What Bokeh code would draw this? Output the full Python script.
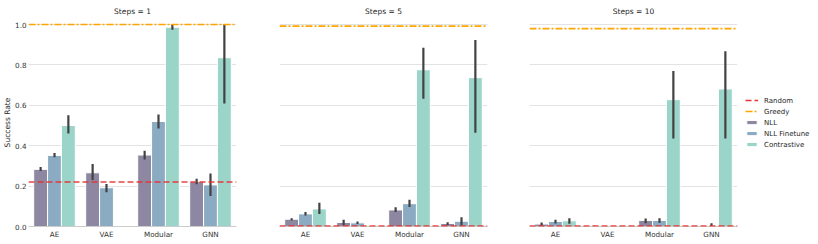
from bokeh.plotting import figure
from bokeh.models import FactorRange, Span, Legend, LegendItem, ColumnDataSource, FixedTicker, Range1d
from bokeh.transform import dodge
from bokeh.layouts import row
from bokeh.embed import file_html
from bokeh.resources import INLINE

nan = float("nan")
models = ["AE", "VAE", "Modular", "GNN"]
series = ["NLL", "NLL Finetune", "Contrastive"]
colors = ["#8e87a1", "#8aabc1", "#9bd4c8"]
steps = [1, 5, 10]

# Steps = 1
s1_nll = [0.283, 0.266, 0.354, 0.222]
s1_nll_lo = [0.275, 0.23, 0.332, 0.209]
s1_nll_hi = [0.295, 0.31, 0.375, 0.237]
s1_ft = [0.352, 0.192, 0.52, 0.206]
s1_ft_lo = [0.343, 0.17, 0.485, 0.151]
s1_ft_hi = [0.364, 0.21, 0.554, 0.263]
s1_con = [0.50, 0.0, 0.987, 0.836]
s1_con_lo = [0.46, nan, 0.974, 0.609]
s1_con_hi = [0.551, nan, 1.0, 1.0]

# Steps = 5
s5_nll = [0.036, 0.02, 0.082, 0.015]
s5_nll_lo = [0.03, 0.008, 0.072, 0.008]
s5_nll_hi = [0.041, 0.033, 0.095, 0.021]
s5_ft = [0.0625, 0.018, 0.113, 0.026]
s5_ft_lo = [0.054, 0.012, 0.097, 0.005]
s5_ft_hi = [0.072, 0.025, 0.132, 0.046]
s5_con = [0.087, 0.0, 0.776, 0.737]
s5_con_lo = [0.0625, nan, 0.633, 0.464]
s5_con_hi = [0.118, nan, 0.885, 0.924]

# Steps = 10
s10_nll = [0.012, 0.002, 0.03, 0.001]
s10_nll_lo = [0.005, 0.0, 0.016, 0.0]
s10_nll_hi = [0.02, 0.004, 0.039, 0.002]
s10_ft = [0.025, 0.0, 0.03, 0.003]
s10_ft_lo = [0.015, nan, 0.018, 0.0]
s10_ft_hi = [0.033, nan, 0.041, 0.016]
s10_con = [0.028, 0.0, 0.628, 0.681]
s10_con_lo = [0.013, nan, 0.436, 0.436]
s10_con_hi = [0.041, nan, 0.77, 0.868]

greedy = [1.0, 0.992, 0.98]
random_baseline = [0.22, 0.002, 0.002]

data = [
    [(s1_nll, s1_nll_lo, s1_nll_hi), (s1_ft, s1_ft_lo, s1_ft_hi), (s1_con, s1_con_lo, s1_con_hi)],
    [(s5_nll, s5_nll_lo, s5_nll_hi), (s5_ft, s5_ft_lo, s5_ft_hi), (s5_con, s5_con_lo, s5_con_hi)],
    [(s10_nll, s10_nll_lo, s10_nll_hi), (s10_ft, s10_ft_lo, s10_ft_hi), (s10_con, s10_con_lo, s10_con_hi)],
]

FONT = "DejaVu Sans"
RED = "#e8302f"
ORANGE = "#ffa500"
offsets = [-0.2667, 0.0, 0.2667]
FRAME_W, FRAME_H = 208, 208
TOP, BOTTOM = 18, 12
figs = []
# (min_border_left, min_border_right)
borders = [(20, 23), (20, 21), (21, 8)]
for i, st in enumerate(steps):
    bl, br = borders[i]
    p = figure(x_range=FactorRange(*models, range_padding=0), y_range=Range1d(0, 1.03),
               frame_width=FRAME_W, frame_height=FRAME_H, output_backend="svg", toolbar_location=None,
               min_border_left=bl, min_border_right=br,
               min_border_top=TOP, min_border_bottom=BOTTOM, title=f"Steps = {st}")
    p.title.align = "center"
    p.title.text_font = FONT
    p.title.text_font_size = "7.5px"
    p.title.text_font_style = "normal"
    p.title.text_color = "#262626"
    p.title.standoff = 6
    p.title.offset = 0
    p.outline_line_color = None
    p.xgrid.grid_line_color = None
    p.ygrid.grid_line_color = "#e3e3e3"
    p.ygrid.grid_line_width = 1
    p.yaxis.ticker = FixedTicker(ticks=[0, 0.2, 0.4, 0.6, 0.8, 1.0])
    p.yaxis.major_label_overrides = {0: "0.0", 1: "1.0"}
    p.yaxis.axis_line_color = None
    p.yaxis.major_tick_line_color = None
    p.yaxis.minor_tick_line_color = None
    p.yaxis.major_tick_out = 0
    p.yaxis.major_tick_in = 0
    p.yaxis.minor_tick_out = 0
    p.yaxis.major_label_text_font = FONT
    p.yaxis.major_label_text_font_size = "7.2px"
    p.yaxis.major_label_text_color = "#333333"
    p.yaxis.major_label_standoff = 2
    p.xaxis.axis_line_color = "#cccccc"
    p.xaxis.axis_line_width = 1
    p.xaxis.major_tick_line_color = None
    p.xaxis.minor_tick_line_color = None
    p.xaxis.major_tick_out = 0
    p.xaxis.major_tick_in = 0
    p.xaxis.minor_tick_out = 0
    p.xaxis.major_label_text_font = FONT
    p.xaxis.major_label_text_font_size = "7.2px"
    p.xaxis.major_label_text_color = "#333333"
    p.xaxis.major_label_standoff = 3
    if i == 0:
        p.yaxis.axis_label = "Success Rate"
        p.yaxis.axis_label_text_font = FONT
        p.yaxis.axis_label_text_font_size = "7.5px"
        p.yaxis.axis_label_text_font_style = "normal"
        p.yaxis.axis_label_text_color = "#262626"
        p.yaxis.axis_label_standoff = 0
    else:
        p.yaxis.visible = False

    for j, (vals, lo, hi) in enumerate(data[i]):
        src = ColumnDataSource(dict(model=models, top=vals, lo=lo, hi=hi))
        p.vbar(x=dodge("model", offsets[j], range=p.x_range), top="top", width=0.2667,
               source=src, fill_color=colors[j], line_color="white", line_width=1)
        p.segment(x0=dodge("model", offsets[j], range=p.x_range), y0="lo",
                  x1=dodge("model", offsets[j], range=p.x_range), y1="hi",
                  source=src, line_color="#424242", line_width=2.2)

    p.add_layout(Span(location=random_baseline[i], dimension="width", line_color=RED,
                      line_dash="6 3", line_width=1.6, line_alpha=0.9))
    p.add_layout(Span(location=greedy[i], dimension="width", line_color=ORANGE,
                      line_dash="7 2 2 2", line_width=1.6))
    figs.append(p)

# legend holder (its glyphs sit outside its own ranges, only the legend shows)
pl = figure(width=66, frame_height=FRAME_H, output_backend="svg", toolbar_location=None,
            x_range=Range1d(0, 1), y_range=Range1d(0, 1),
            min_border_left=0, min_border_right=0, min_border_top=TOP, min_border_bottom=BOTTOM)
pl.axis.visible = False
pl.grid.visible = False
pl.outline_line_color = None
rr = pl.line([5, 6], [5, 6], line_color=RED, line_dash="6 3", line_width=1.6)
rg = pl.line([5, 6], [5, 6], line_color=ORANGE, line_dash="7 2 2 2", line_width=1.6)
items = [LegendItem(label="Random", renderers=[rr]),
         LegendItem(label="Greedy", renderers=[rg])]
for s, c in zip(series, colors):
    rb = pl.vbar(x=[5], top=[6], bottom=5, width=0.5, fill_color=c, line_color="white", line_width=1)
    items.append(LegendItem(label=s, renderers=[rb]))
leg = Legend(items=items, location="center_left", border_line_color=None,
             background_fill_alpha=0, margin=0, padding=2,
             label_text_font=FONT, label_text_font_size="7px",
             label_text_color="#262626", glyph_width=13, glyph_height=5,
             label_height=9, label_standoff=6, spacing=2)
pl.add_layout(leg, "center")

layout = row(*figs, pl, spacing=0)
open("out.html", "w").write(file_html(layout, INLINE))
